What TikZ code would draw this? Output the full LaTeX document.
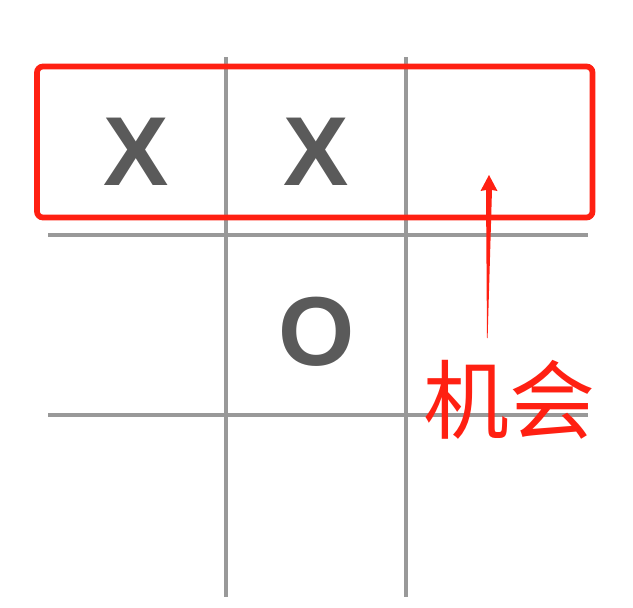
\documentclass[tikz,border=0pt]{standalone}
\usepackage{fontspec}
\newfontfamily\markfont{Liberation Sans}
\newfontfamily\cjk{Noto Sans CJK SC}
\usetikzlibrary{calc}

\definecolor{gridgray}{HTML}{999999}
\definecolor{markgray}{HTML}{5A5A5A}
\definecolor{hintred}{HTML}{FF2012}

\begin{document}
\begin{tikzpicture}[x=1pt,y=-1pt,
    gridline/.style={gridgray,line width=3.3pt},
    piece/.style={markgray,inner sep=0pt,font=\markfont\bfseries\fontsize{98}{98}\selectfont},
    hint/.style={hintred,inner sep=0pt,font=\cjk\fontsize{86}{86}\selectfont}]

  \useasboundingbox (0,0) rectangle (633,608);

  % board
  \foreach \x in {226,406}
    \draw[gridline] (\x,57) -- (\x,597);
  \foreach \y in {235,415}
    \draw[gridline] (48,\y) -- (588,\y);

  \node[piece] (X1) at (136,152)   {X};
  \node[piece] (X2) at (316,152)   {X};
  \node[piece] (O1) at (316.5,332) {O};

  % winning row
  \draw[hintred,line width=5.7pt,rounded corners=6pt] (37,66.5) rectangle (592.5,217.5);
  \coordinate (tip)  at (489,175);
  \coordinate (tail) at (487,338);
  \node[hint] (chance) at (509.5,399.5) {机会};

  \fill[hintred] (tail) -- ($(tail)+(0.6,0)$) -- ($(tip)+(3,15)$) -- ($(tip)+(8.5,16)$)
    -- (tip) -- ($(tip)+(-8.5,16)$) -- ($(tip)+(-3,15)$) -- cycle;
\end{tikzpicture}
\end{document}
